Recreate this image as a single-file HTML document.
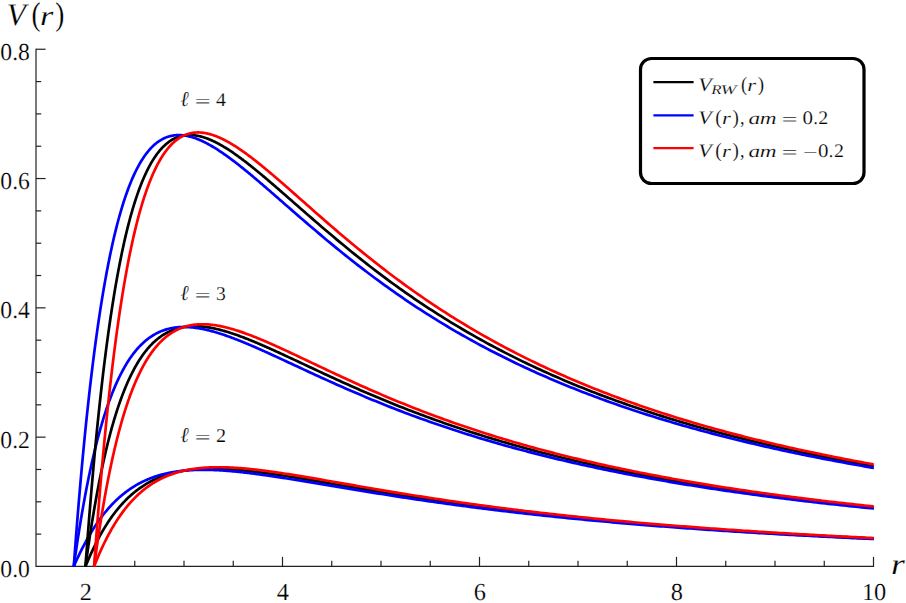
<!DOCTYPE html>
<html><head><meta charset="utf-8"><title>V(r)</title>
<style>
html,body{margin:0;padding:0;background:#fff;}
body{width:906px;height:603px;overflow:hidden;position:relative;font-family:"Liberation Serif",serif;}
svg{position:absolute;left:0;top:0;display:block;}
text{font-family:"Liberation Serif",serif;fill:#000;text-rendering:geometricPrecision;stroke:#fff;stroke-width:0.18px;}
.t{font-size:24.4px;}
.i{font-style:italic;}
</style></head><body>
<svg width="906" height="603" viewBox="0 0 906 603">
<rect width="906" height="603" fill="#fff"/>

<g stroke="#222" stroke-width="1.2" fill="none" stroke-linecap="butt">
<path d="M36.0,48.65 V566.45 H874.10"/>
<path d="M36.0,534.12 h5.2"/>
<path d="M36.0,501.80 h5.2"/>
<path d="M36.0,469.48 h5.2"/>
<path d="M36.0,437.15 h9.6"/>
<path d="M36.0,404.83 h5.2"/>
<path d="M36.0,372.50 h5.2"/>
<path d="M36.0,340.18 h5.2"/>
<path d="M36.0,307.85 h9.6"/>
<path d="M36.0,275.53 h5.2"/>
<path d="M36.0,243.20 h5.2"/>
<path d="M36.0,210.88 h5.2"/>
<path d="M36.0,178.55 h9.6"/>
<path d="M36.0,146.23 h5.2"/>
<path d="M36.0,113.90 h5.2"/>
<path d="M36.0,81.58 h5.2"/>
<path d="M36.0,49.25 h9.6"/>
<path d="M85.50,566.45 v-9.6"/>
<path d="M134.75,566.45 v-5.7"/>
<path d="M184.00,566.45 v-5.7"/>
<path d="M233.25,566.45 v-5.7"/>
<path d="M282.50,566.45 v-9.6"/>
<path d="M331.75,566.45 v-5.7"/>
<path d="M381.00,566.45 v-5.7"/>
<path d="M430.25,566.45 v-5.7"/>
<path d="M479.50,566.45 v-9.6"/>
<path d="M528.75,566.45 v-5.7"/>
<path d="M578.00,566.45 v-5.7"/>
<path d="M627.25,566.45 v-5.7"/>
<path d="M676.50,566.45 v-9.6"/>
<path d="M725.75,566.45 v-5.7"/>
<path d="M775.00,566.45 v-5.7"/>
<path d="M824.25,566.45 v-5.7"/>
<path d="M873.50,566.45 v-9.6"/>
</g>
<defs><clipPath id="cp"><rect x="0" y="0" width="873.80" height="567.05"/></clipPath></defs>
<g fill="none" stroke-width="2.7" stroke-linejoin="round" stroke-linecap="butt" clip-path="url(#cp)">
<path stroke="#000" d="M85.50,566.45 L86.26,564.59 L87.02,562.76 L87.78,560.96 L88.54,559.19 L89.30,557.44 L90.06,555.73 L90.82,554.03 L91.58,552.37 L92.35,550.73 L93.11,549.12 L93.87,547.53 L94.63,545.97 L95.39,544.43 L96.15,542.92 L96.91,541.43 L97.67,539.97 L98.43,538.53 L99.19,537.11 L99.95,535.72 L100.71,534.35 L101.47,533.00 L102.23,531.67 L102.99,530.37 L103.75,529.09 L104.52,527.83 L105.28,526.59 L106.04,525.37 L106.80,524.17 L107.56,522.99 L108.32,521.83 L109.08,520.69 L109.84,519.57 L110.60,518.47 L111.36,517.38 L112.12,516.32 L112.88,515.27 L113.64,514.25 L114.40,513.24 L115.16,512.24 L115.92,511.27 L116.69,510.31 L117.45,509.37 L118.21,508.44 L118.97,507.53 L119.73,506.64 L120.49,505.76 L121.25,504.90 L122.01,504.06 L122.77,503.22 L123.53,502.41 L124.29,501.61 L125.05,500.82 L125.81,500.05 L126.57,499.29 L127.33,498.55 L128.09,497.81 L128.86,497.10 L129.62,496.39 L130.38,495.70 L131.14,495.02 L131.90,494.36 L132.66,493.71 L133.42,493.07 L134.18,492.44 L134.94,491.82 L135.70,491.22 L136.46,490.62 L137.22,490.04 L137.98,489.47 L138.74,488.91 L139.50,488.36 L140.26,487.83 L141.03,487.30 L141.79,486.78 L142.55,486.28 L143.31,485.78 L144.07,485.30 L144.83,484.82 L145.59,484.35 L146.35,483.90 L147.11,483.45 L147.87,483.01 L148.63,482.58 L149.39,482.16 L150.15,481.75 L150.91,481.35 L151.67,480.96 L152.43,480.57 L153.19,480.20 L153.96,479.83 L154.72,479.47 L155.48,479.11 L156.24,478.77 L157.00,478.43 L157.76,478.10 L158.52,477.78 L159.28,477.47 L160.04,477.16 L160.80,476.86 L161.56,476.57 L162.32,476.28 L163.08,476.01 L163.84,475.73 L164.60,475.47 L165.36,475.21 L166.13,474.96 L166.89,474.71 L167.65,474.47 L168.41,474.24 L169.17,474.01 L169.93,473.79 L170.69,473.57 L171.45,473.37 L172.21,473.16 L172.97,472.96 L173.73,472.77 L174.49,472.58 L175.25,472.40 L176.01,472.23 L176.77,472.05 L177.53,471.89 L178.30,471.73 L179.06,471.57 L179.82,471.42 L180.58,471.27 L181.34,471.13 L182.10,470.99 L182.86,470.86 L183.62,470.73 L184.38,470.61 L185.14,470.49 L185.90,470.38 L186.66,470.27 L187.42,470.16 L188.18,470.06 L188.94,469.96 L189.70,469.87 L190.47,469.78 L191.23,469.69 L191.99,469.61 L192.75,469.53 L193.51,469.46 L194.27,469.39 L195.03,469.32 L195.79,469.25 L196.55,469.19 L197.31,469.14 L198.07,469.08 L198.83,469.03 L199.59,468.99 L200.35,468.94 L201.11,468.90 L201.87,468.87 L202.64,468.83 L203.40,468.80 L204.16,468.77 L204.92,468.75 L205.68,468.72 L206.44,468.70 L207.20,468.69 L207.96,468.67 L208.72,468.66 L209.48,468.65 L210.24,468.65 L211.00,468.64 L211.76,468.64 L212.52,468.64 L213.28,468.65 L214.04,468.66 L214.81,468.66 L215.57,468.68 L216.33,468.69 L217.09,468.70 L217.85,468.72 L218.61,468.74 L219.37,468.77 L220.13,468.79 L220.89,468.82 L221.65,468.85 L222.41,468.88 L223.17,468.91 L223.93,468.94 L224.69,468.98 L225.45,469.02 L226.21,469.06 L226.97,469.10 L227.74,469.14 L228.50,469.19 L229.26,469.24 L230.02,469.29 L230.78,469.34 L231.54,469.39 L232.30,469.45 L233.06,469.50 L233.82,469.56 L234.58,469.62 L235.34,469.68 L236.10,469.74 L236.86,469.80 L237.62,469.87 L238.38,469.93 L239.14,470.00 L239.91,470.07 L240.67,470.14 L241.43,470.21 L242.19,470.29 L242.95,470.36 L243.71,470.44 L244.47,470.51 L245.23,470.59 L245.99,470.67 L246.75,470.75 L247.51,470.83 L248.27,470.92 L249.03,471.00 L249.79,471.09 L250.55,471.17 L251.31,471.26 L252.08,471.35 L252.84,471.44 L253.60,471.53 L254.36,471.62 L255.12,471.71 L255.88,471.80 L256.64,471.90 L257.40,471.99 L258.16,472.09 L258.92,472.18 L259.68,472.28 L260.44,472.38 L261.20,472.48 L261.96,472.58 L262.72,472.68 L263.48,472.78 L264.25,472.88 L265.01,472.99 L265.77,473.09 L266.53,473.20 L267.29,473.30 L268.05,473.41 L268.81,473.51 L269.57,473.62 L270.33,473.73 L271.09,473.84 L271.85,473.95 L272.61,474.06 L273.37,474.17 L274.13,474.28 L274.89,474.39 L275.65,474.50 L276.42,474.62 L277.18,474.73 L277.94,474.84 L278.70,474.96 L279.46,475.07 L280.22,475.19 L280.98,475.30 L281.74,475.42 L282.50,475.54 L285.50,476.00 L288.50,476.47 L291.50,476.95 L294.50,477.43 L297.50,477.92 L300.50,478.41 L303.50,478.90 L306.50,479.40 L309.50,479.90 L312.50,480.41 L315.50,480.91 L318.49,481.42 L321.49,481.93 L324.49,482.44 L327.49,482.95 L330.49,483.46 L333.49,483.98 L336.49,484.49 L339.49,485.00 L342.49,485.51 L345.49,486.02 L348.49,486.53 L351.49,487.04 L354.49,487.55 L357.49,488.06 L360.49,488.56 L363.49,489.07 L366.49,489.57 L369.49,490.07 L372.49,490.57 L375.49,491.07 L378.49,491.56 L381.49,492.05 L384.48,492.54 L387.48,493.03 L390.48,493.51 L393.48,494.00 L396.48,494.48 L399.48,494.95 L402.48,495.43 L405.48,495.90 L408.48,496.37 L411.48,496.84 L414.48,497.30 L417.48,497.76 L420.48,498.22 L423.48,498.67 L426.48,499.12 L429.48,499.57 L432.48,500.02 L435.48,500.46 L438.48,500.90 L441.48,501.33 L444.48,501.77 L447.48,502.19 L450.47,502.62 L453.47,503.05 L456.47,503.47 L459.47,503.88 L462.47,504.30 L465.47,504.71 L468.47,505.12 L471.47,505.52 L474.47,505.92 L477.47,506.32 L480.47,506.72 L483.47,507.11 L486.47,507.50 L489.47,507.88 L492.47,508.27 L495.47,508.65 L498.47,509.03 L501.47,509.40 L504.47,509.77 L507.47,510.14 L510.47,510.50 L513.47,510.87 L516.46,511.23 L519.46,511.58 L522.46,511.94 L525.46,512.29 L528.46,512.63 L531.46,512.98 L534.46,513.32 L537.46,513.66 L540.46,514.00 L543.46,514.33 L546.46,514.66 L549.46,514.99 L552.46,515.32 L555.46,515.64 L558.46,515.96 L561.46,516.28 L564.46,516.59 L567.46,516.90 L570.46,517.21 L573.46,517.52 L576.46,517.83 L579.46,518.13 L582.45,518.43 L585.45,518.73 L588.45,519.02 L591.45,519.31 L594.45,519.60 L597.45,519.89 L600.45,520.18 L603.45,520.46 L606.45,520.74 L609.45,521.02 L612.45,521.29 L615.45,521.57 L618.45,521.84 L621.45,522.11 L624.45,522.37 L627.45,522.64 L630.45,522.90 L633.45,523.16 L636.45,523.42 L639.45,523.68 L642.45,523.93 L645.45,524.18 L648.44,524.43 L651.44,524.68 L654.44,524.93 L657.44,525.17 L660.44,525.41 L663.44,525.65 L666.44,525.89 L669.44,526.13 L672.44,526.36 L675.44,526.59 L678.44,526.82 L681.44,527.05 L684.44,527.28 L687.44,527.50 L690.44,527.73 L693.44,527.95 L696.44,528.17 L699.44,528.39 L702.44,528.60 L705.44,528.82 L708.44,529.03 L711.44,529.24 L714.43,529.45 L717.43,529.66 L720.43,529.86 L723.43,530.07 L726.43,530.27 L729.43,530.47 L732.43,530.67 L735.43,530.87 L738.43,531.07 L741.43,531.26 L744.43,531.45 L747.43,531.65 L750.43,531.84 L753.43,532.03 L756.43,532.21 L759.43,532.40 L762.43,532.58 L765.43,532.77 L768.43,532.95 L771.43,533.13 L774.43,533.31 L777.43,533.49 L780.42,533.66 L783.42,533.84 L786.42,534.01 L789.42,534.18 L792.42,534.35 L795.42,534.52 L798.42,534.69 L801.42,534.86 L804.42,535.02 L807.42,535.19 L810.42,535.35 L813.42,535.51 L816.42,535.68 L819.42,535.83 L822.42,535.99 L825.42,536.15 L828.42,536.31 L831.42,536.46 L834.42,536.62 L837.42,536.77 L840.42,536.92 L843.42,537.07 L846.41,537.22 L849.41,537.37 L852.41,537.52 L855.41,537.66 L858.41,537.81 L861.41,537.95 L864.41,538.09 L867.41,538.24 L870.41,538.38 L873.41,538.52 L876.41,538.66 L879.41,538.79"/>
<path stroke="#0000ff" d="M73.78,566.45 L74.59,564.61 L75.39,562.79 L76.20,561.01 L77.00,559.24 L77.81,557.51 L78.62,555.80 L79.42,554.11 L80.23,552.45 L81.03,550.82 L81.84,549.21 L82.65,547.63 L83.45,546.06 L84.26,544.53 L85.06,543.02 L85.87,541.53 L86.67,540.06 L87.48,538.62 L88.29,537.20 L89.09,535.80 L89.90,534.43 L90.70,533.08 L91.51,531.75 L92.32,530.44 L93.12,529.15 L93.93,527.89 L94.73,526.64 L95.54,525.42 L96.35,524.21 L97.15,523.03 L97.96,521.87 L98.76,520.72 L99.57,519.60 L100.37,518.49 L101.18,517.41 L101.99,516.34 L102.79,515.29 L103.60,514.26 L104.40,513.24 L105.21,512.25 L106.02,511.27 L106.82,510.31 L107.63,509.36 L108.43,508.43 L109.24,507.52 L110.04,506.63 L110.85,505.75 L111.66,504.89 L112.46,504.04 L113.27,503.21 L114.07,502.39 L114.88,501.59 L115.69,500.80 L116.49,500.03 L117.30,499.27 L118.10,498.53 L118.91,497.80 L119.72,497.08 L120.52,496.38 L121.33,495.69 L122.13,495.02 L122.94,494.35 L123.74,493.70 L124.55,493.07 L125.36,492.44 L126.16,491.83 L126.97,491.23 L127.77,490.64 L128.58,490.06 L129.39,489.50 L130.19,488.94 L131.00,488.40 L131.80,487.87 L132.61,487.35 L133.41,486.84 L134.22,486.34 L135.03,485.85 L135.83,485.37 L136.64,484.90 L137.44,484.44 L138.25,483.99 L139.06,483.55 L139.86,483.12 L140.67,482.70 L141.47,482.29 L142.28,481.89 L143.09,481.50 L143.89,481.11 L144.70,480.74 L145.50,480.37 L146.31,480.01 L147.11,479.66 L147.92,479.32 L148.73,478.99 L149.53,478.66 L150.34,478.34 L151.14,478.03 L151.95,477.73 L152.76,477.43 L153.56,477.14 L154.37,476.86 L155.17,476.59 L155.98,476.32 L156.79,476.06 L157.59,475.81 L158.40,475.56 L159.20,475.32 L160.01,475.09 L160.81,474.86 L161.62,474.64 L162.43,474.43 L163.23,474.22 L164.04,474.02 L164.84,473.82 L165.65,473.63 L166.46,473.44 L167.26,473.26 L168.07,473.09 L168.87,472.92 L169.68,472.76 L170.48,472.60 L171.29,472.45 L172.10,472.30 L172.90,472.16 L173.71,472.02 L174.51,471.89 L175.32,471.76 L176.13,471.64 L176.93,471.52 L177.74,471.41 L178.54,471.30 L179.35,471.19 L180.16,471.09 L180.96,471.00 L181.77,470.90 L182.57,470.82 L183.38,470.73 L184.18,470.65 L184.99,470.58 L185.80,470.51 L186.60,470.44 L187.41,470.38 L188.21,470.32 L189.02,470.26 L189.83,470.21 L190.63,470.16 L191.44,470.11 L192.24,470.07 L193.05,470.03 L193.85,469.99 L194.66,469.96 L195.47,469.93 L196.27,469.91 L197.08,469.88 L197.88,469.86 L198.69,469.85 L199.50,469.83 L200.30,469.82 L201.11,469.81 L201.91,469.81 L202.72,469.81 L203.53,469.81 L204.33,469.81 L205.14,469.81 L205.94,469.82 L206.75,469.83 L207.55,469.85 L208.36,469.86 L209.17,469.88 L209.97,469.90 L210.78,469.92 L211.58,469.95 L212.39,469.98 L213.20,470.00 L214.00,470.04 L214.81,470.07 L215.61,470.11 L216.42,470.15 L217.22,470.19 L218.03,470.23 L218.84,470.27 L219.64,470.32 L220.45,470.37 L221.25,470.42 L222.06,470.47 L222.87,470.52 L223.67,470.58 L224.48,470.63 L225.28,470.69 L226.09,470.75 L226.90,470.82 L227.70,470.88 L228.51,470.95 L229.31,471.01 L230.12,471.08 L230.92,471.15 L231.73,471.22 L232.54,471.30 L233.34,471.37 L234.15,471.45 L234.95,471.52 L235.76,471.60 L236.57,471.68 L237.37,471.76 L238.18,471.85 L238.98,471.93 L239.79,472.02 L240.60,472.10 L241.40,472.19 L242.21,472.28 L243.01,472.37 L243.82,472.46 L244.62,472.55 L245.43,472.64 L246.24,472.74 L247.04,472.83 L247.85,472.93 L248.65,473.03 L249.46,473.13 L250.27,473.23 L251.07,473.33 L251.88,473.43 L252.68,473.53 L253.49,473.63 L254.29,473.74 L255.10,473.84 L255.91,473.95 L256.71,474.05 L257.52,474.16 L258.32,474.27 L259.13,474.38 L259.94,474.49 L260.74,474.60 L261.55,474.71 L262.35,474.82 L263.16,474.93 L263.97,475.05 L264.77,475.16 L265.58,475.28 L266.38,475.39 L267.19,475.51 L267.99,475.62 L268.80,475.74 L269.61,475.86 L270.41,475.98 L271.22,476.09 L272.02,476.21 L272.83,476.33 L273.64,476.45 L274.44,476.57 L275.25,476.70 L276.05,476.82 L276.86,476.94 L277.66,477.06 L278.47,477.19 L279.28,477.31 L280.08,477.43 L280.89,477.56 L281.69,477.68 L282.50,477.81 L285.50,478.28 L288.50,478.75 L291.50,479.23 L294.50,479.72 L297.50,480.20 L300.50,480.69 L303.50,481.18 L306.50,481.68 L309.50,482.17 L312.50,482.67 L315.50,483.17 L318.49,483.67 L321.49,484.17 L324.49,484.67 L327.49,485.17 L330.49,485.68 L333.49,486.18 L336.49,486.68 L339.49,487.18 L342.49,487.68 L345.49,488.18 L348.49,488.67 L351.49,489.17 L354.49,489.67 L357.49,490.16 L360.49,490.65 L363.49,491.14 L366.49,491.63 L369.49,492.11 L372.49,492.60 L375.49,493.08 L378.49,493.56 L381.49,494.04 L384.48,494.51 L387.48,494.98 L390.48,495.45 L393.48,495.92 L396.48,496.38 L399.48,496.85 L402.48,497.31 L405.48,497.76 L408.48,498.21 L411.48,498.67 L414.48,499.11 L417.48,499.56 L420.48,500.00 L423.48,500.44 L426.48,500.87 L429.48,501.31 L432.48,501.74 L435.48,502.17 L438.48,502.59 L441.48,503.01 L444.48,503.43 L447.48,503.84 L450.47,504.26 L453.47,504.66 L456.47,505.07 L459.47,505.47 L462.47,505.87 L465.47,506.27 L468.47,506.66 L471.47,507.05 L474.47,507.44 L477.47,507.83 L480.47,508.21 L483.47,508.59 L486.47,508.96 L489.47,509.34 L492.47,509.71 L495.47,510.07 L498.47,510.44 L501.47,510.80 L504.47,511.16 L507.47,511.51 L510.47,511.87 L513.47,512.22 L516.46,512.56 L519.46,512.91 L522.46,513.25 L525.46,513.59 L528.46,513.92 L531.46,514.26 L534.46,514.59 L537.46,514.91 L540.46,515.24 L543.46,515.56 L546.46,515.88 L549.46,516.20 L552.46,516.51 L555.46,516.83 L558.46,517.14 L561.46,517.44 L564.46,517.75 L567.46,518.05 L570.46,518.35 L573.46,518.65 L576.46,518.94 L579.46,519.23 L582.45,519.52 L585.45,519.81 L588.45,520.09 L591.45,520.38 L594.45,520.66 L597.45,520.94 L600.45,521.21 L603.45,521.49 L606.45,521.76 L609.45,522.03 L612.45,522.29 L615.45,522.56 L618.45,522.82 L621.45,523.08 L624.45,523.34 L627.45,523.60 L630.45,523.85 L633.45,524.10 L636.45,524.35 L639.45,524.60 L642.45,524.85 L645.45,525.09 L648.44,525.33 L651.44,525.57 L654.44,525.81 L657.44,526.05 L660.44,526.28 L663.44,526.51 L666.44,526.74 L669.44,526.97 L672.44,527.20 L675.44,527.42 L678.44,527.65 L681.44,527.87 L684.44,528.09 L687.44,528.31 L690.44,528.52 L693.44,528.74 L696.44,528.95 L699.44,529.16 L702.44,529.37 L705.44,529.58 L708.44,529.79 L711.44,529.99 L714.43,530.19 L717.43,530.40 L720.43,530.60 L723.43,530.79 L726.43,530.99 L729.43,531.19 L732.43,531.38 L735.43,531.57 L738.43,531.76 L741.43,531.95 L744.43,532.14 L747.43,532.33 L750.43,532.51 L753.43,532.69 L756.43,532.88 L759.43,533.06 L762.43,533.24 L765.43,533.41 L768.43,533.59 L771.43,533.77 L774.43,533.94 L777.43,534.11 L780.42,534.28 L783.42,534.45 L786.42,534.62 L789.42,534.79 L792.42,534.96 L795.42,535.12 L798.42,535.28 L801.42,535.45 L804.42,535.61 L807.42,535.77 L810.42,535.93 L813.42,536.08 L816.42,536.24 L819.42,536.40 L822.42,536.55 L825.42,536.70 L828.42,536.86 L831.42,537.01 L834.42,537.16 L837.42,537.30 L840.42,537.45 L843.42,537.60 L846.41,537.74 L849.41,537.89 L852.41,538.03 L855.41,538.17 L858.41,538.31 L861.41,538.46 L864.41,538.59 L867.41,538.73 L870.41,538.87 L873.41,539.01 L876.41,539.14 L879.41,539.28"/>
<path stroke="#ff0000" d="M94.11,566.45 L94.84,564.60 L95.57,562.77 L96.29,560.98 L97.02,559.21 L97.75,557.47 L98.48,555.76 L99.20,554.08 L99.93,552.42 L100.66,550.78 L101.39,549.18 L102.11,547.60 L102.84,546.04 L103.57,544.51 L104.30,543.00 L105.02,541.52 L105.75,540.06 L106.48,538.62 L107.20,537.21 L107.93,535.82 L108.66,534.45 L109.39,533.11 L110.11,531.78 L110.84,530.48 L111.57,529.20 L112.30,527.94 L113.02,526.70 L113.75,525.49 L114.48,524.29 L115.21,523.11 L115.93,521.95 L116.66,520.81 L117.39,519.69 L118.12,518.59 L118.84,517.50 L119.57,516.44 L120.30,515.39 L121.02,514.36 L121.75,513.35 L122.48,512.35 L123.21,511.37 L123.93,510.41 L124.66,509.47 L125.39,508.54 L126.12,507.63 L126.84,506.73 L127.57,505.85 L128.30,504.98 L129.03,504.13 L129.75,503.29 L130.48,502.47 L131.21,501.66 L131.94,500.87 L132.66,500.09 L133.39,499.33 L134.12,498.57 L134.84,497.84 L135.57,497.11 L136.30,496.40 L137.03,495.70 L137.75,495.01 L138.48,494.34 L139.21,493.68 L139.94,493.03 L140.66,492.39 L141.39,491.76 L142.12,491.15 L142.85,490.55 L143.57,489.96 L144.30,489.38 L145.03,488.81 L145.76,488.25 L146.48,487.70 L147.21,487.16 L147.94,486.63 L148.66,486.12 L149.39,485.61 L150.12,485.11 L150.85,484.63 L151.57,484.15 L152.30,483.68 L153.03,483.22 L153.76,482.77 L154.48,482.33 L155.21,481.90 L155.94,481.47 L156.67,481.06 L157.39,480.65 L158.12,480.25 L158.85,479.87 L159.58,479.48 L160.30,479.11 L161.03,478.74 L161.76,478.39 L162.48,478.04 L163.21,477.69 L163.94,477.36 L164.67,477.03 L165.39,476.71 L166.12,476.40 L166.85,476.09 L167.58,475.79 L168.30,475.50 L169.03,475.21 L169.76,474.94 L170.49,474.66 L171.21,474.40 L171.94,474.14 L172.67,473.88 L173.40,473.64 L174.12,473.39 L174.85,473.16 L175.58,472.93 L176.30,472.71 L177.03,472.49 L177.76,472.28 L178.49,472.07 L179.21,471.87 L179.94,471.67 L180.67,471.48 L181.40,471.29 L182.12,471.11 L182.85,470.94 L183.58,470.77 L184.31,470.60 L185.03,470.44 L185.76,470.29 L186.49,470.14 L187.22,469.99 L187.94,469.85 L188.67,469.71 L189.40,469.58 L190.12,469.45 L190.85,469.32 L191.58,469.20 L192.31,469.09 L193.03,468.98 L193.76,468.87 L194.49,468.76 L195.22,468.66 L195.94,468.57 L196.67,468.48 L197.40,468.39 L198.13,468.30 L198.85,468.22 L199.58,468.14 L200.31,468.07 L201.04,468.00 L201.76,467.93 L202.49,467.87 L203.22,467.81 L203.94,467.75 L204.67,467.70 L205.40,467.65 L206.13,467.60 L206.85,467.56 L207.58,467.51 L208.31,467.48 L209.04,467.44 L209.76,467.41 L210.49,467.38 L211.22,467.35 L211.95,467.33 L212.67,467.31 L213.40,467.29 L214.13,467.27 L214.85,467.26 L215.58,467.25 L216.31,467.24 L217.04,467.23 L217.76,467.23 L218.49,467.23 L219.22,467.23 L219.95,467.23 L220.67,467.24 L221.40,467.25 L222.13,467.26 L222.86,467.27 L223.58,467.28 L224.31,467.30 L225.04,467.32 L225.77,467.34 L226.49,467.36 L227.22,467.39 L227.95,467.42 L228.67,467.44 L229.40,467.48 L230.13,467.51 L230.86,467.54 L231.58,467.58 L232.31,467.62 L233.04,467.66 L233.77,467.70 L234.49,467.74 L235.22,467.79 L235.95,467.83 L236.68,467.88 L237.40,467.93 L238.13,467.98 L238.86,468.04 L239.59,468.09 L240.31,468.15 L241.04,468.20 L241.77,468.26 L242.49,468.32 L243.22,468.39 L243.95,468.45 L244.68,468.51 L245.40,468.58 L246.13,468.65 L246.86,468.71 L247.59,468.78 L248.31,468.86 L249.04,468.93 L249.77,469.00 L250.50,469.08 L251.22,469.15 L251.95,469.23 L252.68,469.31 L253.41,469.38 L254.13,469.46 L254.86,469.55 L255.59,469.63 L256.31,469.71 L257.04,469.80 L257.77,469.88 L258.50,469.97 L259.22,470.05 L259.95,470.14 L260.68,470.23 L261.41,470.32 L262.13,470.41 L262.86,470.50 L263.59,470.60 L264.32,470.69 L265.04,470.79 L265.77,470.88 L266.50,470.98 L267.23,471.07 L267.95,471.17 L268.68,471.27 L269.41,471.37 L270.13,471.47 L270.86,471.57 L271.59,471.67 L272.32,471.77 L273.04,471.87 L273.77,471.98 L274.50,472.08 L275.23,472.19 L275.95,472.29 L276.68,472.40 L277.41,472.50 L278.14,472.61 L278.86,472.72 L279.59,472.83 L280.32,472.93 L281.05,473.04 L281.77,473.15 L282.50,473.26 L285.50,473.72 L288.50,474.19 L291.50,474.67 L294.50,475.15 L297.50,475.64 L300.50,476.13 L303.50,476.63 L306.50,477.13 L309.50,477.64 L312.50,478.15 L315.50,478.66 L318.49,479.17 L321.49,479.69 L324.49,480.21 L327.49,480.73 L330.49,481.25 L333.49,481.78 L336.49,482.30 L339.49,482.82 L342.49,483.35 L345.49,483.87 L348.49,484.39 L351.49,484.92 L354.49,485.44 L357.49,485.96 L360.49,486.48 L363.49,487.00 L366.49,487.51 L369.49,488.03 L372.49,488.54 L375.49,489.05 L378.49,489.56 L381.49,490.07 L384.48,490.57 L387.48,491.08 L390.48,491.58 L393.48,492.07 L396.48,492.57 L399.48,493.06 L402.48,493.55 L405.48,494.04 L408.48,494.52 L411.48,495.01 L414.48,495.48 L417.48,495.96 L420.48,496.43 L423.48,496.90 L426.48,497.37 L429.48,497.83 L432.48,498.29 L435.48,498.75 L438.48,499.20 L441.48,499.65 L444.48,500.10 L447.48,500.55 L450.47,500.99 L453.47,501.43 L456.47,501.86 L459.47,502.29 L462.47,502.72 L465.47,503.15 L468.47,503.57 L471.47,503.99 L474.47,504.40 L477.47,504.82 L480.47,505.22 L483.47,505.63 L486.47,506.03 L489.47,506.43 L492.47,506.83 L495.47,507.22 L498.47,507.61 L501.47,508.00 L504.47,508.38 L507.47,508.76 L510.47,509.14 L513.47,509.52 L516.46,509.89 L519.46,510.26 L522.46,510.62 L525.46,510.99 L528.46,511.35 L531.46,511.70 L534.46,512.06 L537.46,512.41 L540.46,512.76 L543.46,513.10 L546.46,513.44 L549.46,513.78 L552.46,514.12 L555.46,514.45 L558.46,514.78 L561.46,515.11 L564.46,515.44 L567.46,515.76 L570.46,516.08 L573.46,516.40 L576.46,516.71 L579.46,517.03 L582.45,517.34 L585.45,517.64 L588.45,517.95 L591.45,518.25 L594.45,518.55 L597.45,518.85 L600.45,519.14 L603.45,519.43 L606.45,519.72 L609.45,520.01 L612.45,520.29 L615.45,520.58 L618.45,520.86 L621.45,521.13 L624.45,521.41 L627.45,521.68 L630.45,521.95 L633.45,522.22 L636.45,522.49 L639.45,522.75 L642.45,523.02 L645.45,523.28 L648.44,523.53 L651.44,523.79 L654.44,524.04 L657.44,524.30 L660.44,524.55 L663.44,524.79 L666.44,525.04 L669.44,525.28 L672.44,525.52 L675.44,525.76 L678.44,526.00 L681.44,526.24 L684.44,526.47 L687.44,526.70 L690.44,526.93 L693.44,527.16 L696.44,527.39 L699.44,527.61 L702.44,527.83 L705.44,528.05 L708.44,528.27 L711.44,528.49 L714.43,528.71 L717.43,528.92 L720.43,529.13 L723.43,529.34 L726.43,529.55 L729.43,529.76 L732.43,529.96 L735.43,530.17 L738.43,530.37 L741.43,530.57 L744.43,530.77 L747.43,530.97 L750.43,531.16 L753.43,531.36 L756.43,531.55 L759.43,531.74 L762.43,531.93 L765.43,532.12 L768.43,532.31 L771.43,532.49 L774.43,532.68 L777.43,532.86 L780.42,533.04 L783.42,533.22 L786.42,533.40 L789.42,533.58 L792.42,533.75 L795.42,533.93 L798.42,534.10 L801.42,534.27 L804.42,534.44 L807.42,534.61 L810.42,534.78 L813.42,534.94 L816.42,535.11 L819.42,535.27 L822.42,535.44 L825.42,535.60 L828.42,535.76 L831.42,535.92 L834.42,536.08 L837.42,536.23 L840.42,536.39 L843.42,536.54 L846.41,536.70 L849.41,536.85 L852.41,537.00 L855.41,537.15 L858.41,537.30 L861.41,537.45 L864.41,537.59 L867.41,537.74 L870.41,537.88 L873.41,538.03 L876.41,538.17 L879.41,538.31"/>
<path stroke="#000" d="M85.50,566.45 L86.26,560.89 L87.02,555.45 L87.78,550.11 L88.54,544.89 L89.30,539.77 L90.06,534.75 L90.82,529.84 L91.58,525.03 L92.35,520.32 L93.11,515.70 L93.87,511.18 L94.63,506.75 L95.39,502.41 L96.15,498.16 L96.91,494.00 L97.67,489.92 L98.43,485.93 L99.19,482.02 L99.95,478.19 L100.71,474.44 L101.47,470.77 L102.23,467.17 L102.99,463.65 L103.75,460.20 L104.52,456.83 L105.28,453.52 L106.04,450.29 L106.80,447.12 L107.56,444.01 L108.32,440.98 L109.08,438.00 L109.84,435.09 L110.60,432.24 L111.36,429.45 L112.12,426.72 L112.88,424.05 L113.64,421.44 L114.40,418.88 L115.16,416.37 L115.92,413.92 L116.69,411.53 L117.45,409.18 L118.21,406.89 L118.97,404.64 L119.73,402.44 L120.49,400.30 L121.25,398.19 L122.01,396.14 L122.77,394.13 L123.53,392.17 L124.29,390.24 L125.05,388.37 L125.81,386.53 L126.57,384.73 L127.33,382.98 L128.09,381.26 L128.86,379.59 L129.62,377.95 L130.38,376.35 L131.14,374.79 L131.90,373.26 L132.66,371.77 L133.42,370.31 L134.18,368.89 L134.94,367.50 L135.70,366.15 L136.46,364.82 L137.22,363.53 L137.98,362.27 L138.74,361.04 L139.50,359.84 L140.26,358.67 L141.03,357.53 L141.79,356.42 L142.55,355.33 L143.31,354.28 L144.07,353.25 L144.83,352.24 L145.59,351.27 L146.35,350.31 L147.11,349.39 L147.87,348.48 L148.63,347.61 L149.39,346.75 L150.15,345.92 L150.91,345.11 L151.67,344.33 L152.43,343.56 L153.19,342.82 L153.96,342.10 L154.72,341.40 L155.48,340.72 L156.24,340.06 L157.00,339.42 L157.76,338.80 L158.52,338.20 L159.28,337.61 L160.04,337.05 L160.80,336.50 L161.56,335.97 L162.32,335.46 L163.08,334.97 L163.84,334.49 L164.60,334.03 L165.36,333.58 L166.13,333.15 L166.89,332.74 L167.65,332.34 L168.41,331.96 L169.17,331.59 L169.93,331.24 L170.69,330.90 L171.45,330.57 L172.21,330.26 L172.97,329.96 L173.73,329.68 L174.49,329.40 L175.25,329.14 L176.01,328.90 L176.77,328.66 L177.53,328.44 L178.30,328.23 L179.06,328.03 L179.82,327.84 L180.58,327.67 L181.34,327.50 L182.10,327.35 L182.86,327.20 L183.62,327.07 L184.38,326.95 L185.14,326.83 L185.90,326.73 L186.66,326.64 L187.42,326.55 L188.18,326.48 L188.94,326.41 L189.70,326.35 L190.47,326.31 L191.23,326.27 L191.99,326.24 L192.75,326.21 L193.51,326.20 L194.27,326.19 L195.03,326.20 L195.79,326.21 L196.55,326.22 L197.31,326.25 L198.07,326.28 L198.83,326.32 L199.59,326.37 L200.35,326.42 L201.11,326.48 L201.87,326.55 L202.64,326.62 L203.40,326.70 L204.16,326.79 L204.92,326.88 L205.68,326.98 L206.44,327.08 L207.20,327.19 L207.96,327.31 L208.72,327.43 L209.48,327.56 L210.24,327.69 L211.00,327.83 L211.76,327.97 L212.52,328.12 L213.28,328.28 L214.04,328.43 L214.81,328.60 L215.57,328.76 L216.33,328.94 L217.09,329.11 L217.85,329.30 L218.61,329.48 L219.37,329.67 L220.13,329.87 L220.89,330.07 L221.65,330.27 L222.41,330.48 L223.17,330.69 L223.93,330.90 L224.69,331.12 L225.45,331.34 L226.21,331.57 L226.97,331.79 L227.74,332.03 L228.50,332.26 L229.26,332.50 L230.02,332.74 L230.78,332.99 L231.54,333.24 L232.30,333.49 L233.06,333.74 L233.82,334.00 L234.58,334.26 L235.34,334.52 L236.10,334.79 L236.86,335.06 L237.62,335.33 L238.38,335.60 L239.14,335.88 L239.91,336.16 L240.67,336.44 L241.43,336.72 L242.19,337.01 L242.95,337.29 L243.71,337.58 L244.47,337.88 L245.23,338.17 L245.99,338.47 L246.75,338.76 L247.51,339.06 L248.27,339.37 L249.03,339.67 L249.79,339.98 L250.55,340.28 L251.31,340.59 L252.08,340.90 L252.84,341.22 L253.60,341.53 L254.36,341.85 L255.12,342.16 L255.88,342.48 L256.64,342.80 L257.40,343.12 L258.16,343.45 L258.92,343.77 L259.68,344.10 L260.44,344.42 L261.20,344.75 L261.96,345.08 L262.72,345.41 L263.48,345.74 L264.25,346.08 L265.01,346.41 L265.77,346.74 L266.53,347.08 L267.29,347.42 L268.05,347.76 L268.81,348.09 L269.57,348.43 L270.33,348.77 L271.09,349.12 L271.85,349.46 L272.61,349.80 L273.37,350.14 L274.13,350.49 L274.89,350.83 L275.65,351.18 L276.42,351.53 L277.18,351.87 L277.94,352.22 L278.70,352.57 L279.46,352.92 L280.22,353.27 L280.98,353.62 L281.74,353.97 L282.50,354.32 L285.50,355.70 L288.50,357.10 L291.50,358.50 L294.50,359.90 L297.50,361.30 L300.50,362.71 L303.50,364.11 L306.50,365.52 L309.50,366.93 L312.50,368.33 L315.50,369.73 L318.49,371.13 L321.49,372.52 L324.49,373.91 L327.49,375.30 L330.49,376.68 L333.49,378.06 L336.49,379.43 L339.49,380.79 L342.49,382.15 L345.49,383.50 L348.49,384.84 L351.49,386.18 L354.49,387.51 L357.49,388.83 L360.49,390.14 L363.49,391.44 L366.49,392.74 L369.49,394.02 L372.49,395.30 L375.49,396.57 L378.49,397.83 L381.49,399.08 L384.48,400.32 L387.48,401.55 L390.48,402.77 L393.48,403.99 L396.48,405.19 L399.48,406.39 L402.48,407.57 L405.48,408.75 L408.48,409.91 L411.48,411.07 L414.48,412.21 L417.48,413.35 L420.48,414.48 L423.48,415.60 L426.48,416.70 L429.48,417.80 L432.48,418.89 L435.48,419.97 L438.48,421.04 L441.48,422.10 L444.48,423.15 L447.48,424.20 L450.47,425.23 L453.47,426.25 L456.47,427.27 L459.47,428.27 L462.47,429.27 L465.47,430.26 L468.47,431.23 L471.47,432.20 L474.47,433.16 L477.47,434.12 L480.47,435.06 L483.47,435.99 L486.47,436.92 L489.47,437.84 L492.47,438.75 L495.47,439.65 L498.47,440.54 L501.47,441.43 L504.47,442.30 L507.47,443.17 L510.47,444.03 L513.47,444.88 L516.46,445.73 L519.46,446.56 L522.46,447.39 L525.46,448.21 L528.46,449.03 L531.46,449.84 L534.46,450.63 L537.46,451.43 L540.46,452.21 L543.46,452.99 L546.46,453.76 L549.46,454.52 L552.46,455.28 L555.46,456.02 L558.46,456.77 L561.46,457.50 L564.46,458.23 L567.46,458.95 L570.46,459.67 L573.46,460.38 L576.46,461.08 L579.46,461.77 L582.45,462.46 L585.45,463.15 L588.45,463.82 L591.45,464.50 L594.45,465.16 L597.45,465.82 L600.45,466.47 L603.45,467.12 L606.45,467.76 L609.45,468.40 L612.45,469.03 L615.45,469.65 L618.45,470.27 L621.45,470.88 L624.45,471.49 L627.45,472.09 L630.45,472.69 L633.45,473.28 L636.45,473.87 L639.45,474.45 L642.45,475.02 L645.45,475.59 L648.44,476.16 L651.44,476.72 L654.44,477.28 L657.44,477.83 L660.44,478.37 L663.44,478.92 L666.44,479.45 L669.44,479.98 L672.44,480.51 L675.44,481.03 L678.44,481.55 L681.44,482.07 L684.44,482.58 L687.44,483.08 L690.44,483.58 L693.44,484.08 L696.44,484.57 L699.44,485.06 L702.44,485.54 L705.44,486.02 L708.44,486.50 L711.44,486.97 L714.43,487.44 L717.43,487.90 L720.43,488.36 L723.43,488.82 L726.43,489.27 L729.43,489.72 L732.43,490.16 L735.43,490.61 L738.43,491.04 L741.43,491.48 L744.43,491.91 L747.43,492.33 L750.43,492.76 L753.43,493.18 L756.43,493.59 L759.43,494.01 L762.43,494.41 L765.43,494.82 L768.43,495.22 L771.43,495.62 L774.43,496.02 L777.43,496.41 L780.42,496.80 L783.42,497.19 L786.42,497.57 L789.42,497.95 L792.42,498.33 L795.42,498.71 L798.42,499.08 L801.42,499.45 L804.42,499.81 L807.42,500.17 L810.42,500.53 L813.42,500.89 L816.42,501.25 L819.42,501.60 L822.42,501.95 L825.42,502.29 L828.42,502.64 L831.42,502.98 L834.42,503.31 L837.42,503.65 L840.42,503.98 L843.42,504.31 L846.41,504.64 L849.41,504.97 L852.41,505.29 L855.41,505.61 L858.41,505.93 L861.41,506.24 L864.41,506.56 L867.41,506.87 L870.41,507.17 L873.41,507.48 L876.41,507.78 L879.41,508.09"/>
<path stroke="#0000ff" d="M73.78,566.45 L74.59,560.70 L75.39,555.06 L76.20,549.55 L77.00,544.15 L77.81,538.87 L78.62,533.69 L79.42,528.63 L80.23,523.67 L81.03,518.82 L81.84,514.06 L82.65,509.41 L83.45,504.86 L84.26,500.41 L85.06,496.04 L85.87,491.78 L86.67,487.60 L87.48,483.51 L88.29,479.51 L89.09,475.59 L89.90,471.76 L90.70,468.01 L91.51,464.34 L92.32,460.75 L93.12,457.24 L93.93,453.80 L94.73,450.44 L95.54,447.15 L96.35,443.93 L97.15,440.79 L97.96,437.71 L98.76,434.69 L99.57,431.75 L100.37,428.87 L101.18,426.05 L101.99,423.30 L102.79,420.60 L103.60,417.97 L104.40,415.39 L105.21,412.87 L106.02,410.41 L106.82,408.01 L107.63,405.66 L108.43,403.36 L109.24,401.11 L110.04,398.92 L110.85,396.77 L111.66,394.68 L112.46,392.63 L113.27,390.63 L114.07,388.68 L114.88,386.77 L115.69,384.91 L116.49,383.09 L117.30,381.31 L118.10,379.58 L118.91,377.88 L119.72,376.23 L120.52,374.62 L121.33,373.05 L122.13,371.51 L122.94,370.01 L123.74,368.55 L124.55,367.13 L125.36,365.74 L126.16,364.39 L126.97,363.07 L127.77,361.78 L128.58,360.53 L129.39,359.31 L130.19,358.12 L131.00,356.96 L131.80,355.83 L132.61,354.73 L133.41,353.66 L134.22,352.62 L135.03,351.61 L135.83,350.63 L136.64,349.67 L137.44,348.74 L138.25,347.84 L139.06,346.96 L139.86,346.11 L140.67,345.28 L141.47,344.47 L142.28,343.69 L143.09,342.93 L143.89,342.20 L144.70,341.49 L145.50,340.80 L146.31,340.13 L147.11,339.48 L147.92,338.86 L148.73,338.25 L149.53,337.66 L150.34,337.10 L151.14,336.55 L151.95,336.02 L152.76,335.51 L153.56,335.02 L154.37,334.55 L155.17,334.10 L155.98,333.66 L156.79,333.24 L157.59,332.83 L158.40,332.44 L159.20,332.07 L160.01,331.71 L160.81,331.37 L161.62,331.04 L162.43,330.73 L163.23,330.44 L164.04,330.15 L164.84,329.88 L165.65,329.63 L166.46,329.39 L167.26,329.16 L168.07,328.94 L168.87,328.74 L169.68,328.55 L170.48,328.37 L171.29,328.21 L172.10,328.05 L172.90,327.91 L173.71,327.78 L174.51,327.66 L175.32,327.55 L176.13,327.45 L176.93,327.36 L177.74,327.28 L178.54,327.21 L179.35,327.16 L180.16,327.11 L180.96,327.07 L181.77,327.04 L182.57,327.02 L183.38,327.01 L184.18,327.01 L184.99,327.01 L185.80,327.03 L186.60,327.05 L187.41,327.08 L188.21,327.12 L189.02,327.17 L189.83,327.22 L190.63,327.28 L191.44,327.35 L192.24,327.43 L193.05,327.52 L193.85,327.61 L194.66,327.70 L195.47,327.81 L196.27,327.92 L197.08,328.04 L197.88,328.16 L198.69,328.29 L199.50,328.43 L200.30,328.57 L201.11,328.72 L201.91,328.87 L202.72,329.03 L203.53,329.20 L204.33,329.37 L205.14,329.54 L205.94,329.72 L206.75,329.91 L207.55,330.10 L208.36,330.29 L209.17,330.49 L209.97,330.70 L210.78,330.91 L211.58,331.12 L212.39,331.34 L213.20,331.56 L214.00,331.79 L214.81,332.02 L215.61,332.25 L216.42,332.49 L217.22,332.73 L218.03,332.98 L218.84,333.23 L219.64,333.48 L220.45,333.74 L221.25,334.00 L222.06,334.27 L222.87,334.53 L223.67,334.80 L224.48,335.08 L225.28,335.35 L226.09,335.63 L226.90,335.91 L227.70,336.20 L228.51,336.49 L229.31,336.78 L230.12,337.07 L230.92,337.37 L231.73,337.67 L232.54,337.97 L233.34,338.27 L234.15,338.58 L234.95,338.89 L235.76,339.20 L236.57,339.51 L237.37,339.83 L238.18,340.14 L238.98,340.46 L239.79,340.78 L240.60,341.11 L241.40,341.43 L242.21,341.76 L243.01,342.09 L243.82,342.42 L244.62,342.75 L245.43,343.09 L246.24,343.42 L247.04,343.76 L247.85,344.10 L248.65,344.44 L249.46,344.78 L250.27,345.12 L251.07,345.47 L251.88,345.81 L252.68,346.16 L253.49,346.51 L254.29,346.86 L255.10,347.21 L255.91,347.56 L256.71,347.91 L257.52,348.27 L258.32,348.62 L259.13,348.98 L259.94,349.34 L260.74,349.70 L261.55,350.05 L262.35,350.41 L263.16,350.78 L263.97,351.14 L264.77,351.50 L265.58,351.86 L266.38,352.23 L267.19,352.59 L267.99,352.96 L268.80,353.32 L269.61,353.69 L270.41,354.06 L271.22,354.42 L272.02,354.79 L272.83,355.16 L273.64,355.53 L274.44,355.90 L275.25,356.27 L276.05,356.64 L276.86,357.01 L277.66,357.38 L278.47,357.76 L279.28,358.13 L280.08,358.50 L280.89,358.87 L281.69,359.25 L282.50,359.62 L285.50,361.01 L288.50,362.41 L291.50,363.80 L294.50,365.20 L297.50,366.59 L300.50,367.99 L303.50,369.38 L306.50,370.77 L309.50,372.16 L312.50,373.54 L315.50,374.92 L318.49,376.29 L321.49,377.66 L324.49,379.03 L327.49,380.39 L330.49,381.74 L333.49,383.09 L336.49,384.42 L339.49,385.76 L342.49,387.08 L345.49,388.40 L348.49,389.71 L351.49,391.01 L354.49,392.30 L357.49,393.58 L360.49,394.86 L363.49,396.13 L366.49,397.39 L369.49,398.64 L372.49,399.88 L375.49,401.11 L378.49,402.33 L381.49,403.54 L384.48,404.74 L387.48,405.94 L390.48,407.12 L393.48,408.30 L396.48,409.46 L399.48,410.62 L402.48,411.77 L405.48,412.91 L408.48,414.03 L411.48,415.15 L414.48,416.26 L417.48,417.36 L420.48,418.45 L423.48,419.53 L426.48,420.60 L429.48,421.66 L432.48,422.72 L435.48,423.76 L438.48,424.80 L441.48,425.82 L444.48,426.84 L447.48,427.84 L450.47,428.84 L453.47,429.83 L456.47,430.81 L459.47,431.78 L462.47,432.75 L465.47,433.70 L468.47,434.65 L471.47,435.58 L474.47,436.51 L477.47,437.43 L480.47,438.34 L483.47,439.24 L486.47,440.14 L489.47,441.03 L492.47,441.90 L495.47,442.78 L498.47,443.64 L501.47,444.49 L504.47,445.34 L507.47,446.18 L510.47,447.01 L513.47,447.83 L516.46,448.65 L519.46,449.46 L522.46,450.26 L525.46,451.05 L528.46,451.84 L531.46,452.62 L534.46,453.39 L537.46,454.16 L540.46,454.91 L543.46,455.67 L546.46,456.41 L549.46,457.15 L552.46,457.88 L555.46,458.60 L558.46,459.32 L561.46,460.03 L564.46,460.74 L567.46,461.43 L570.46,462.13 L573.46,462.81 L576.46,463.49 L579.46,464.16 L582.45,464.83 L585.45,465.49 L588.45,466.15 L591.45,466.80 L594.45,467.44 L597.45,468.08 L600.45,468.71 L603.45,469.34 L606.45,469.96 L609.45,470.57 L612.45,471.18 L615.45,471.79 L618.45,472.38 L621.45,472.98 L624.45,473.57 L627.45,474.15 L630.45,474.73 L633.45,475.30 L636.45,475.87 L639.45,476.43 L642.45,476.99 L645.45,477.54 L648.44,478.09 L651.44,478.63 L654.44,479.17 L657.44,479.71 L660.44,480.24 L663.44,480.76 L666.44,481.28 L669.44,481.80 L672.44,482.31 L675.44,482.82 L678.44,483.32 L681.44,483.82 L684.44,484.31 L687.44,484.80 L690.44,485.29 L693.44,485.77 L696.44,486.25 L699.44,486.72 L702.44,487.19 L705.44,487.65 L708.44,488.12 L711.44,488.57 L714.43,489.03 L717.43,489.48 L720.43,489.92 L723.43,490.37 L726.43,490.81 L729.43,491.24 L732.43,491.67 L735.43,492.10 L738.43,492.53 L741.43,492.95 L744.43,493.37 L747.43,493.78 L750.43,494.19 L753.43,494.60 L756.43,495.00 L759.43,495.40 L762.43,495.80 L765.43,496.20 L768.43,496.59 L771.43,496.98 L774.43,497.36 L777.43,497.74 L780.42,498.12 L783.42,498.50 L786.42,498.87 L789.42,499.24 L792.42,499.61 L795.42,499.97 L798.42,500.33 L801.42,500.69 L804.42,501.05 L807.42,501.40 L810.42,501.75 L813.42,502.10 L816.42,502.44 L819.42,502.79 L822.42,503.12 L825.42,503.46 L828.42,503.80 L831.42,504.13 L834.42,504.46 L837.42,504.78 L840.42,505.11 L843.42,505.43 L846.41,505.75 L849.41,506.06 L852.41,506.38 L855.41,506.69 L858.41,507.00 L861.41,507.31 L864.41,507.61 L867.41,507.91 L870.41,508.21 L873.41,508.51 L876.41,508.81 L879.41,509.10"/>
<path stroke="#ff0000" d="M94.11,566.45 L94.84,561.05 L95.57,555.77 L96.29,550.58 L97.02,545.50 L97.75,540.51 L98.48,535.63 L99.20,530.84 L99.93,526.14 L100.66,521.54 L101.39,517.03 L102.11,512.61 L102.84,508.27 L103.57,504.03 L104.30,499.86 L105.02,495.78 L105.75,491.78 L106.48,487.85 L107.20,484.01 L107.93,480.24 L108.66,476.55 L109.39,472.93 L110.11,469.38 L110.84,465.91 L111.57,462.50 L112.30,459.16 L113.02,455.89 L113.75,452.69 L114.48,449.54 L115.21,446.47 L115.93,443.45 L116.66,440.50 L117.39,437.60 L118.12,434.77 L118.84,431.99 L119.57,429.26 L120.30,426.60 L121.02,423.99 L121.75,421.43 L122.48,418.92 L123.21,416.47 L123.93,414.07 L124.66,411.71 L125.39,409.41 L126.12,407.15 L126.84,404.94 L127.57,402.78 L128.30,400.66 L129.03,398.59 L129.75,396.56 L130.48,394.57 L131.21,392.62 L131.94,390.72 L132.66,388.86 L133.39,387.04 L134.12,385.25 L134.84,383.51 L135.57,381.80 L136.30,380.13 L137.03,378.50 L137.75,376.90 L138.48,375.34 L139.21,373.81 L139.94,372.32 L140.66,370.86 L141.39,369.43 L142.12,368.04 L142.85,366.67 L143.57,365.34 L144.30,364.04 L145.03,362.77 L145.76,361.52 L146.48,360.31 L147.21,359.13 L147.94,357.97 L148.66,356.84 L149.39,355.74 L150.12,354.66 L150.85,353.61 L151.57,352.59 L152.30,351.59 L153.03,350.61 L153.76,349.66 L154.48,348.73 L155.21,347.83 L155.94,346.95 L156.67,346.09 L157.39,345.26 L158.12,344.44 L158.85,343.65 L159.58,342.88 L160.30,342.13 L161.03,341.40 L161.76,340.69 L162.48,340.00 L163.21,339.33 L163.94,338.67 L164.67,338.04 L165.39,337.43 L166.12,336.83 L166.85,336.25 L167.58,335.69 L168.30,335.14 L169.03,334.61 L169.76,334.10 L170.49,333.60 L171.21,333.12 L171.94,332.66 L172.67,332.21 L173.40,331.77 L174.12,331.36 L174.85,330.95 L175.58,330.56 L176.30,330.18 L177.03,329.82 L177.76,329.47 L178.49,329.14 L179.21,328.82 L179.94,328.51 L180.67,328.21 L181.40,327.92 L182.12,327.65 L182.85,327.39 L183.58,327.14 L184.31,326.91 L185.03,326.68 L185.76,326.47 L186.49,326.27 L187.22,326.07 L187.94,325.89 L188.67,325.72 L189.40,325.56 L190.12,325.41 L190.85,325.27 L191.58,325.14 L192.31,325.01 L193.03,324.90 L193.76,324.80 L194.49,324.71 L195.22,324.62 L195.94,324.54 L196.67,324.48 L197.40,324.42 L198.13,324.37 L198.85,324.32 L199.58,324.29 L200.31,324.26 L201.04,324.24 L201.76,324.23 L202.49,324.23 L203.22,324.23 L203.94,324.24 L204.67,324.26 L205.40,324.28 L206.13,324.32 L206.85,324.35 L207.58,324.40 L208.31,324.45 L209.04,324.51 L209.76,324.57 L210.49,324.64 L211.22,324.72 L211.95,324.80 L212.67,324.89 L213.40,324.98 L214.13,325.08 L214.85,325.18 L215.58,325.29 L216.31,325.41 L217.04,325.53 L217.76,325.65 L218.49,325.78 L219.22,325.92 L219.95,326.06 L220.67,326.20 L221.40,326.35 L222.13,326.51 L222.86,326.67 L223.58,326.83 L224.31,327.00 L225.04,327.17 L225.77,327.34 L226.49,327.52 L227.22,327.71 L227.95,327.90 L228.67,328.09 L229.40,328.28 L230.13,328.48 L230.86,328.68 L231.58,328.89 L232.31,329.10 L233.04,329.31 L233.77,329.53 L234.49,329.75 L235.22,329.97 L235.95,330.20 L236.68,330.43 L237.40,330.66 L238.13,330.90 L238.86,331.13 L239.59,331.38 L240.31,331.62 L241.04,331.87 L241.77,332.12 L242.49,332.37 L243.22,332.62 L243.95,332.88 L244.68,333.14 L245.40,333.40 L246.13,333.67 L246.86,333.93 L247.59,334.20 L248.31,334.47 L249.04,334.75 L249.77,335.02 L250.50,335.30 L251.22,335.58 L251.95,335.86 L252.68,336.15 L253.41,336.43 L254.13,336.72 L254.86,337.01 L255.59,337.30 L256.31,337.59 L257.04,337.89 L257.77,338.18 L258.50,338.48 L259.22,338.78 L259.95,339.08 L260.68,339.38 L261.41,339.69 L262.13,339.99 L262.86,340.30 L263.59,340.61 L264.32,340.92 L265.04,341.23 L265.77,341.54 L266.50,341.86 L267.23,342.17 L267.95,342.49 L268.68,342.80 L269.41,343.12 L270.13,343.44 L270.86,343.76 L271.59,344.08 L272.32,344.41 L273.04,344.73 L273.77,345.05 L274.50,345.38 L275.23,345.71 L275.95,346.03 L276.68,346.36 L277.41,346.69 L278.14,347.02 L278.86,347.35 L279.59,347.68 L280.32,348.01 L281.05,348.35 L281.77,348.68 L282.50,349.01 L285.50,350.40 L288.50,351.79 L291.50,353.19 L294.50,354.60 L297.50,356.01 L300.50,357.43 L303.50,358.85 L306.50,360.27 L309.50,361.69 L312.50,363.12 L315.50,364.54 L318.49,365.96 L321.49,367.38 L324.49,368.80 L327.49,370.21 L330.49,371.62 L333.49,373.03 L336.49,374.43 L339.49,375.83 L342.49,377.22 L345.49,378.60 L348.49,379.98 L351.49,381.35 L354.49,382.71 L357.49,384.07 L360.49,385.41 L363.49,386.75 L366.49,388.09 L369.49,389.41 L372.49,390.72 L375.49,392.03 L378.49,393.33 L381.49,394.62 L384.48,395.90 L387.48,397.17 L390.48,398.43 L393.48,399.68 L396.48,400.92 L399.48,402.15 L402.48,403.37 L405.48,404.59 L408.48,405.79 L411.48,406.98 L414.48,408.17 L417.48,409.34 L420.48,410.50 L423.48,411.66 L426.48,412.80 L429.48,413.94 L432.48,415.06 L435.48,416.18 L438.48,417.29 L441.48,418.38 L444.48,419.47 L447.48,420.55 L450.47,421.61 L453.47,422.67 L456.47,423.72 L459.47,424.76 L462.47,425.79 L465.47,426.81 L468.47,427.82 L471.47,428.82 L474.47,429.82 L477.47,430.80 L480.47,431.78 L483.47,432.74 L486.47,433.70 L489.47,434.65 L492.47,435.59 L495.47,436.52 L498.47,437.44 L501.47,438.36 L504.47,439.27 L507.47,440.16 L510.47,441.05 L513.47,441.93 L516.46,442.81 L519.46,443.67 L522.46,444.53 L525.46,445.38 L528.46,446.22 L531.46,447.05 L534.46,447.88 L537.46,448.69 L540.46,449.51 L543.46,450.31 L546.46,451.10 L549.46,451.89 L552.46,452.67 L555.46,453.45 L558.46,454.21 L561.46,454.97 L564.46,455.72 L567.46,456.47 L570.46,457.21 L573.46,457.94 L576.46,458.67 L579.46,459.39 L582.45,460.10 L585.45,460.80 L588.45,461.50 L591.45,462.19 L594.45,462.88 L597.45,463.56 L600.45,464.23 L603.45,464.90 L606.45,465.56 L609.45,466.22 L612.45,466.87 L615.45,467.51 L618.45,468.15 L621.45,468.78 L624.45,469.41 L627.45,470.03 L630.45,470.65 L633.45,471.26 L636.45,471.86 L639.45,472.46 L642.45,473.06 L645.45,473.64 L648.44,474.23 L651.44,474.81 L654.44,475.38 L657.44,475.95 L660.44,476.51 L663.44,477.07 L666.44,477.62 L669.44,478.17 L672.44,478.71 L675.44,479.25 L678.44,479.79 L681.44,480.32 L684.44,480.84 L687.44,481.36 L690.44,481.88 L693.44,482.39 L696.44,482.90 L699.44,483.40 L702.44,483.90 L705.44,484.39 L708.44,484.88 L711.44,485.37 L714.43,485.85 L717.43,486.33 L720.43,486.80 L723.43,487.27 L726.43,487.74 L729.43,488.20 L732.43,488.65 L735.43,489.11 L738.43,489.56 L741.43,490.00 L744.43,490.45 L747.43,490.89 L750.43,491.32 L753.43,491.75 L756.43,492.18 L759.43,492.61 L762.43,493.03 L765.43,493.44 L768.43,493.86 L771.43,494.27 L774.43,494.68 L777.43,495.08 L780.42,495.48 L783.42,495.88 L786.42,496.27 L789.42,496.67 L792.42,497.05 L795.42,497.44 L798.42,497.82 L801.42,498.20 L804.42,498.57 L807.42,498.95 L810.42,499.32 L813.42,499.68 L816.42,500.05 L819.42,500.41 L822.42,500.77 L825.42,501.12 L828.42,501.48 L831.42,501.83 L834.42,502.17 L837.42,502.52 L840.42,502.86 L843.42,503.20 L846.41,503.53 L849.41,503.87 L852.41,504.20 L855.41,504.53 L858.41,504.85 L861.41,505.18 L864.41,505.50 L867.41,505.82 L870.41,506.13 L873.41,506.45 L876.41,506.76 L879.41,507.07"/>
<path stroke="#000" d="M85.50,566.45 L86.26,555.96 L87.02,545.69 L87.78,535.64 L88.54,525.81 L89.30,516.20 L90.06,506.79 L90.82,497.58 L91.58,488.57 L92.35,479.76 L93.11,471.14 L93.87,462.70 L94.63,454.45 L95.39,446.38 L96.15,438.48 L96.91,430.75 L97.67,423.19 L98.43,415.80 L99.19,408.56 L99.95,401.49 L100.71,394.57 L101.47,387.80 L102.23,381.17 L102.99,374.70 L103.75,368.36 L104.52,362.16 L105.28,356.11 L106.04,350.18 L106.80,344.38 L107.56,338.72 L108.32,333.17 L109.08,327.76 L109.84,322.46 L110.60,317.28 L111.36,312.21 L112.12,307.26 L112.88,302.42 L113.64,297.69 L114.40,293.07 L115.16,288.55 L115.92,284.13 L116.69,279.82 L117.45,275.60 L118.21,271.48 L118.97,267.45 L119.73,263.52 L120.49,259.67 L121.25,255.92 L122.01,252.25 L122.77,248.67 L123.53,245.17 L124.29,241.76 L125.05,238.42 L125.81,235.17 L126.57,231.99 L127.33,228.89 L128.09,225.86 L128.86,222.91 L129.62,220.03 L130.38,217.21 L131.14,214.47 L131.90,211.80 L132.66,209.19 L133.42,206.64 L134.18,204.16 L134.94,201.74 L135.70,199.39 L136.46,197.09 L137.22,194.85 L137.98,192.67 L138.74,190.55 L139.50,188.48 L140.26,186.47 L141.03,184.51 L141.79,182.60 L142.55,180.74 L143.31,178.94 L144.07,177.18 L144.83,175.48 L145.59,173.82 L146.35,172.20 L147.11,170.64 L147.87,169.11 L148.63,167.64 L149.39,166.20 L150.15,164.81 L150.91,163.46 L151.67,162.15 L152.43,160.88 L153.19,159.65 L153.96,158.46 L154.72,157.31 L155.48,156.19 L156.24,155.11 L157.00,154.06 L157.76,153.05 L158.52,152.08 L159.28,151.14 L160.04,150.23 L160.80,149.35 L161.56,148.51 L162.32,147.70 L163.08,146.92 L163.84,146.16 L164.60,145.44 L165.36,144.75 L166.13,144.08 L166.89,143.45 L167.65,142.84 L168.41,142.25 L169.17,141.70 L169.93,141.17 L170.69,140.66 L171.45,140.18 L172.21,139.72 L172.97,139.29 L173.73,138.88 L174.49,138.50 L175.25,138.13 L176.01,137.79 L176.77,137.47 L177.53,137.18 L178.30,136.90 L179.06,136.64 L179.82,136.41 L180.58,136.19 L181.34,135.99 L182.10,135.81 L182.86,135.66 L183.62,135.51 L184.38,135.39 L185.14,135.28 L185.90,135.20 L186.66,135.12 L187.42,135.07 L188.18,135.03 L188.94,135.01 L189.70,135.00 L190.47,135.01 L191.23,135.03 L191.99,135.07 L192.75,135.12 L193.51,135.19 L194.27,135.27 L195.03,135.37 L195.79,135.48 L196.55,135.60 L197.31,135.73 L198.07,135.88 L198.83,136.04 L199.59,136.21 L200.35,136.39 L201.11,136.58 L201.87,136.79 L202.64,137.01 L203.40,137.24 L204.16,137.48 L204.92,137.73 L205.68,137.99 L206.44,138.26 L207.20,138.54 L207.96,138.83 L208.72,139.12 L209.48,139.43 L210.24,139.75 L211.00,140.08 L211.76,140.41 L212.52,140.76 L213.28,141.11 L214.04,141.47 L214.81,141.84 L215.57,142.22 L216.33,142.60 L217.09,142.99 L217.85,143.39 L218.61,143.80 L219.37,144.22 L220.13,144.64 L220.89,145.07 L221.65,145.50 L222.41,145.94 L223.17,146.39 L223.93,146.84 L224.69,147.30 L225.45,147.77 L226.21,148.24 L226.97,148.72 L227.74,149.20 L228.50,149.69 L229.26,150.18 L230.02,150.68 L230.78,151.19 L231.54,151.70 L232.30,152.21 L233.06,152.73 L233.82,153.26 L234.58,153.78 L235.34,154.32 L236.10,154.85 L236.86,155.40 L237.62,155.94 L238.38,156.49 L239.14,157.05 L239.91,157.60 L240.67,158.16 L241.43,158.73 L242.19,159.30 L242.95,159.87 L243.71,160.45 L244.47,161.03 L245.23,161.61 L245.99,162.19 L246.75,162.78 L247.51,163.37 L248.27,163.97 L249.03,164.56 L249.79,165.16 L250.55,165.77 L251.31,166.37 L252.08,166.98 L252.84,167.59 L253.60,168.20 L254.36,168.82 L255.12,169.44 L255.88,170.06 L256.64,170.68 L257.40,171.30 L258.16,171.93 L258.92,172.56 L259.68,173.18 L260.44,173.82 L261.20,174.45 L261.96,175.08 L262.72,175.72 L263.48,176.36 L264.25,177.00 L265.01,177.64 L265.77,178.28 L266.53,178.93 L267.29,179.57 L268.05,180.22 L268.81,180.87 L269.57,181.52 L270.33,182.17 L271.09,182.82 L271.85,183.47 L272.61,184.12 L273.37,184.78 L274.13,185.43 L274.89,186.09 L275.65,186.75 L276.42,187.41 L277.18,188.06 L277.94,188.72 L278.70,189.38 L279.46,190.04 L280.22,190.71 L280.98,191.37 L281.74,192.03 L282.50,192.69 L285.50,195.31 L288.50,197.93 L291.50,200.56 L294.50,203.19 L297.50,205.81 L300.50,208.44 L303.50,211.06 L306.50,213.68 L309.50,216.29 L312.50,218.89 L315.50,221.48 L318.49,224.07 L321.49,226.65 L324.49,229.21 L327.49,231.76 L330.49,234.31 L333.49,236.83 L336.49,239.35 L339.49,241.85 L342.49,244.33 L345.49,246.80 L348.49,249.25 L351.49,251.69 L354.49,254.11 L357.49,256.51 L360.49,258.90 L363.49,261.27 L366.49,263.62 L369.49,265.96 L372.49,268.27 L375.49,270.57 L378.49,272.85 L381.49,275.11 L384.48,277.36 L387.48,279.58 L390.48,281.79 L393.48,283.98 L396.48,286.14 L399.48,288.29 L402.48,290.43 L405.48,292.54 L408.48,294.63 L411.48,296.71 L414.48,298.77 L417.48,300.81 L420.48,302.83 L423.48,304.83 L426.48,306.81 L429.48,308.78 L432.48,310.73 L435.48,312.65 L438.48,314.57 L441.48,316.46 L444.48,318.34 L447.48,320.20 L450.47,322.04 L453.47,323.86 L456.47,325.67 L459.47,327.46 L462.47,329.23 L465.47,330.99 L468.47,332.72 L471.47,334.45 L474.47,336.15 L477.47,337.84 L480.47,339.52 L483.47,341.18 L486.47,342.82 L489.47,344.44 L492.47,346.05 L495.47,347.65 L498.47,349.23 L501.47,350.79 L504.47,352.34 L507.47,353.88 L510.47,355.40 L513.47,356.91 L516.46,358.40 L519.46,359.87 L522.46,361.34 L525.46,362.79 L528.46,364.22 L531.46,365.64 L534.46,367.05 L537.46,368.45 L540.46,369.83 L543.46,371.19 L546.46,372.55 L549.46,373.89 L552.46,375.22 L555.46,376.54 L558.46,377.84 L561.46,379.13 L564.46,380.41 L567.46,381.68 L570.46,382.94 L573.46,384.18 L576.46,385.41 L579.46,386.63 L582.45,387.84 L585.45,389.04 L588.45,390.23 L591.45,391.40 L594.45,392.57 L597.45,393.72 L600.45,394.87 L603.45,396.00 L606.45,397.12 L609.45,398.23 L612.45,399.33 L615.45,400.43 L618.45,401.51 L621.45,402.58 L624.45,403.64 L627.45,404.69 L630.45,405.74 L633.45,406.77 L636.45,407.79 L639.45,408.81 L642.45,409.81 L645.45,410.81 L648.44,411.79 L651.44,412.77 L654.44,413.74 L657.44,414.70 L660.44,415.65 L663.44,416.60 L666.44,417.53 L669.44,418.46 L672.44,419.38 L675.44,420.29 L678.44,421.19 L681.44,422.09 L684.44,422.97 L687.44,423.85 L690.44,424.72 L693.44,425.59 L696.44,426.44 L699.44,427.29 L702.44,428.13 L705.44,428.97 L708.44,429.79 L711.44,430.61 L714.43,431.42 L717.43,432.23 L720.43,433.03 L723.43,433.82 L726.43,434.61 L729.43,435.38 L732.43,436.15 L735.43,436.92 L738.43,437.68 L741.43,438.43 L744.43,439.18 L747.43,439.92 L750.43,440.65 L753.43,441.38 L756.43,442.10 L759.43,442.81 L762.43,443.52 L765.43,444.23 L768.43,444.92 L771.43,445.62 L774.43,446.30 L777.43,446.98 L780.42,447.66 L783.42,448.33 L786.42,448.99 L789.42,449.65 L792.42,450.30 L795.42,450.95 L798.42,451.59 L801.42,452.23 L804.42,452.86 L807.42,453.49 L810.42,454.11 L813.42,454.73 L816.42,455.34 L819.42,455.95 L822.42,456.55 L825.42,457.15 L828.42,457.74 L831.42,458.33 L834.42,458.91 L837.42,459.49 L840.42,460.07 L843.42,460.64 L846.41,461.20 L849.41,461.76 L852.41,462.32 L855.41,462.87 L858.41,463.42 L861.41,463.96 L864.41,464.50 L867.41,465.04 L870.41,465.57 L873.41,466.10 L876.41,466.62 L879.41,467.14"/>
<path stroke="#0000ff" d="M73.78,566.45 L74.59,555.48 L75.39,544.76 L76.20,534.28 L77.00,524.03 L77.81,514.01 L78.62,504.22 L79.42,494.65 L80.23,485.29 L81.03,476.14 L81.84,467.20 L82.65,458.46 L83.45,449.92 L84.26,441.57 L85.06,433.42 L85.87,425.44 L86.67,417.65 L87.48,410.03 L88.29,402.59 L89.09,395.31 L89.90,388.20 L90.70,381.25 L91.51,374.47 L92.32,367.83 L93.12,361.35 L93.93,355.02 L94.73,348.84 L95.54,342.79 L96.35,336.89 L97.15,331.12 L97.96,325.49 L98.76,319.99 L99.57,314.62 L100.37,309.37 L101.18,304.25 L101.99,299.24 L102.79,294.35 L103.60,289.58 L104.40,284.93 L105.21,280.38 L106.02,275.94 L106.82,271.61 L107.63,267.38 L108.43,263.26 L109.24,259.23 L110.04,255.30 L110.85,251.47 L111.66,247.73 L112.46,244.08 L113.27,240.53 L114.07,237.06 L114.88,233.67 L115.69,230.38 L116.49,227.16 L117.30,224.03 L118.10,220.97 L118.91,218.00 L119.72,215.10 L120.52,212.27 L121.33,209.52 L122.13,206.84 L122.94,204.23 L123.74,201.69 L124.55,199.22 L125.36,196.81 L126.16,194.47 L126.97,192.19 L127.77,189.97 L128.58,187.82 L129.39,185.72 L130.19,183.68 L131.00,181.71 L131.80,179.78 L132.61,177.91 L133.41,176.10 L134.22,174.34 L135.03,172.63 L135.83,170.97 L136.64,169.37 L137.44,167.81 L138.25,166.30 L139.06,164.83 L139.86,163.41 L140.67,162.04 L141.47,160.71 L142.28,159.43 L143.09,158.18 L143.89,156.98 L144.70,155.82 L145.50,154.70 L146.31,153.62 L147.11,152.58 L147.92,151.57 L148.73,150.60 L149.53,149.67 L150.34,148.78 L151.14,147.91 L151.95,147.09 L152.76,146.29 L153.56,145.53 L154.37,144.80 L155.17,144.10 L155.98,143.44 L156.79,142.80 L157.59,142.19 L158.40,141.62 L159.20,141.07 L160.01,140.54 L160.81,140.05 L161.62,139.58 L162.43,139.14 L163.23,138.73 L164.04,138.34 L164.84,137.97 L165.65,137.63 L166.46,137.31 L167.26,137.02 L168.07,136.75 L168.87,136.50 L169.68,136.27 L170.48,136.06 L171.29,135.88 L172.10,135.72 L172.90,135.57 L173.71,135.45 L174.51,135.35 L175.32,135.26 L176.13,135.19 L176.93,135.15 L177.74,135.11 L178.54,135.10 L179.35,135.11 L180.16,135.13 L180.96,135.17 L181.77,135.22 L182.57,135.29 L183.38,135.37 L184.18,135.47 L184.99,135.59 L185.80,135.72 L186.60,135.86 L187.41,136.02 L188.21,136.19 L189.02,136.38 L189.83,136.58 L190.63,136.79 L191.44,137.01 L192.24,137.25 L193.05,137.50 L193.85,137.76 L194.66,138.03 L195.47,138.31 L196.27,138.61 L197.08,138.91 L197.88,139.23 L198.69,139.55 L199.50,139.89 L200.30,140.24 L201.11,140.59 L201.91,140.96 L202.72,141.33 L203.53,141.72 L204.33,142.11 L205.14,142.51 L205.94,142.92 L206.75,143.34 L207.55,143.77 L208.36,144.20 L209.17,144.64 L209.97,145.10 L210.78,145.55 L211.58,146.02 L212.39,146.49 L213.20,146.97 L214.00,147.46 L214.81,147.95 L215.61,148.45 L216.42,148.95 L217.22,149.47 L218.03,149.98 L218.84,150.51 L219.64,151.04 L220.45,151.57 L221.25,152.12 L222.06,152.66 L222.87,153.21 L223.67,153.77 L224.48,154.33 L225.28,154.90 L226.09,155.47 L226.90,156.05 L227.70,156.63 L228.51,157.21 L229.31,157.80 L230.12,158.40 L230.92,158.99 L231.73,159.60 L232.54,160.20 L233.34,160.81 L234.15,161.42 L234.95,162.04 L235.76,162.66 L236.57,163.28 L237.37,163.91 L238.18,164.54 L238.98,165.17 L239.79,165.81 L240.60,166.45 L241.40,167.09 L242.21,167.74 L243.01,168.38 L243.82,169.03 L244.62,169.69 L245.43,170.34 L246.24,171.00 L247.04,171.66 L247.85,172.32 L248.65,172.98 L249.46,173.65 L250.27,174.32 L251.07,174.99 L251.88,175.66 L252.68,176.33 L253.49,177.01 L254.29,177.69 L255.10,178.37 L255.91,179.05 L256.71,179.73 L257.52,180.41 L258.32,181.10 L259.13,181.78 L259.94,182.47 L260.74,183.16 L261.55,183.85 L262.35,184.54 L263.16,185.23 L263.97,185.92 L264.77,186.62 L265.58,187.31 L266.38,188.01 L267.19,188.71 L267.99,189.40 L268.80,190.10 L269.61,190.80 L270.41,191.50 L271.22,192.20 L272.02,192.90 L272.83,193.60 L273.64,194.30 L274.44,195.00 L275.25,195.71 L276.05,196.41 L276.86,197.11 L277.66,197.81 L278.47,198.52 L279.28,199.22 L280.08,199.92 L280.89,200.63 L281.69,201.33 L282.50,202.04 L285.50,204.66 L288.50,207.28 L291.50,209.89 L294.50,212.51 L297.50,215.11 L300.50,217.71 L303.50,220.31 L306.50,222.89 L309.50,225.47 L312.50,228.03 L315.50,230.58 L318.49,233.13 L321.49,235.65 L324.49,238.17 L327.49,240.67 L330.49,243.16 L333.49,245.63 L336.49,248.09 L339.49,250.53 L342.49,252.95 L345.49,255.36 L348.49,257.75 L351.49,260.12 L354.49,262.48 L357.49,264.82 L360.49,267.14 L363.49,269.44 L366.49,271.73 L369.49,274.00 L372.49,276.25 L375.49,278.48 L378.49,280.69 L381.49,282.88 L384.48,285.06 L387.48,287.21 L390.48,289.35 L393.48,291.47 L396.48,293.57 L399.48,295.65 L402.48,297.72 L405.48,299.76 L408.48,301.79 L411.48,303.80 L414.48,305.79 L417.48,307.76 L420.48,309.72 L423.48,311.65 L426.48,313.57 L429.48,315.47 L432.48,317.36 L435.48,319.22 L438.48,321.07 L441.48,322.90 L444.48,324.72 L447.48,326.51 L450.47,328.29 L453.47,330.06 L456.47,331.80 L459.47,333.53 L462.47,335.24 L465.47,336.94 L468.47,338.62 L471.47,340.29 L474.47,341.94 L477.47,343.57 L480.47,345.19 L483.47,346.79 L486.47,348.37 L489.47,349.95 L492.47,351.50 L495.47,353.04 L498.47,354.57 L501.47,356.08 L504.47,357.58 L507.47,359.07 L510.47,360.54 L513.47,361.99 L516.46,363.43 L519.46,364.86 L522.46,366.27 L525.46,367.67 L528.46,369.06 L531.46,370.44 L534.46,371.80 L537.46,373.15 L540.46,374.48 L543.46,375.80 L546.46,377.11 L549.46,378.41 L552.46,379.70 L555.46,380.97 L558.46,382.23 L561.46,383.48 L564.46,384.72 L567.46,385.95 L570.46,387.16 L573.46,388.37 L576.46,389.56 L579.46,390.74 L582.45,391.91 L585.45,393.07 L588.45,394.22 L591.45,395.36 L594.45,396.48 L597.45,397.60 L600.45,398.71 L603.45,399.80 L606.45,400.89 L609.45,401.97 L612.45,403.03 L615.45,404.09 L618.45,405.14 L621.45,406.17 L624.45,407.20 L627.45,408.22 L630.45,409.23 L633.45,410.23 L636.45,411.22 L639.45,412.21 L642.45,413.18 L645.45,414.15 L648.44,415.10 L651.44,416.05 L654.44,416.99 L657.44,417.92 L660.44,418.84 L663.44,419.76 L666.44,420.66 L669.44,421.56 L672.44,422.45 L675.44,423.34 L678.44,424.21 L681.44,425.08 L684.44,425.94 L687.44,426.79 L690.44,427.64 L693.44,428.48 L696.44,429.31 L699.44,430.13 L702.44,430.95 L705.44,431.75 L708.44,432.56 L711.44,433.35 L714.43,434.14 L717.43,434.92 L720.43,435.70 L723.43,436.47 L726.43,437.23 L729.43,437.98 L732.43,438.73 L735.43,439.48 L738.43,440.21 L741.43,440.94 L744.43,441.67 L747.43,442.39 L750.43,443.10 L753.43,443.81 L756.43,444.51 L759.43,445.20 L762.43,445.89 L765.43,446.57 L768.43,447.25 L771.43,447.92 L774.43,448.59 L777.43,449.25 L780.42,449.91 L783.42,450.56 L786.42,451.20 L789.42,451.84 L792.42,452.48 L795.42,453.11 L798.42,453.73 L801.42,454.35 L804.42,454.97 L807.42,455.58 L810.42,456.18 L813.42,456.79 L816.42,457.38 L819.42,457.97 L822.42,458.56 L825.42,459.14 L828.42,459.72 L831.42,460.29 L834.42,460.86 L837.42,461.42 L840.42,461.98 L843.42,462.53 L846.41,463.09 L849.41,463.63 L852.41,464.17 L855.41,464.71 L858.41,465.25 L861.41,465.78 L864.41,466.30 L867.41,466.82 L870.41,467.34 L873.41,467.85 L876.41,468.36 L879.41,468.87"/>
<path stroke="#ff0000" d="M94.11,566.45 L94.84,556.33 L95.57,546.42 L96.29,536.71 L97.02,527.21 L97.75,517.90 L98.48,508.78 L99.20,499.86 L99.93,491.11 L100.66,482.55 L101.39,474.17 L102.11,465.96 L102.84,457.92 L103.57,450.05 L104.30,442.34 L105.02,434.79 L105.75,427.40 L106.48,420.16 L107.20,413.08 L107.93,406.14 L108.66,399.35 L109.39,392.69 L110.11,386.18 L110.84,379.81 L111.57,373.57 L112.30,367.46 L113.02,361.48 L113.75,355.62 L114.48,349.89 L115.21,344.28 L115.93,338.79 L116.66,333.41 L117.39,328.15 L118.12,323.00 L118.84,317.97 L119.57,313.04 L120.30,308.21 L121.02,303.49 L121.75,298.87 L122.48,294.35 L123.21,289.93 L123.93,285.60 L124.66,281.37 L125.39,277.23 L126.12,273.18 L126.84,269.22 L127.57,265.35 L128.30,261.56 L129.03,257.86 L129.75,254.24 L130.48,250.70 L131.21,247.24 L131.94,243.86 L132.66,240.55 L133.39,237.32 L134.12,234.16 L134.84,231.07 L135.57,228.06 L136.30,225.11 L137.03,222.23 L137.75,219.42 L138.48,216.67 L139.21,213.99 L139.94,211.37 L140.66,208.82 L141.39,206.32 L142.12,203.88 L142.85,201.51 L143.57,199.19 L144.30,196.92 L145.03,194.71 L145.76,192.56 L146.48,190.46 L147.21,188.41 L147.94,186.42 L148.66,184.47 L149.39,182.57 L150.12,180.72 L150.85,178.92 L151.57,177.17 L152.30,175.46 L153.03,173.80 L153.76,172.18 L154.48,170.61 L155.21,169.08 L155.94,167.59 L156.67,166.14 L157.39,164.73 L158.12,163.36 L158.85,162.03 L159.58,160.74 L160.30,159.49 L161.03,158.27 L161.76,157.09 L162.48,155.95 L163.21,154.84 L163.94,153.76 L164.67,152.72 L165.39,151.71 L166.12,150.73 L166.85,149.79 L167.58,148.87 L168.30,147.99 L169.03,147.14 L169.76,146.32 L170.49,145.52 L171.21,144.76 L171.94,144.02 L172.67,143.31 L173.40,142.63 L174.12,141.97 L174.85,141.34 L175.58,140.74 L176.30,140.16 L177.03,139.60 L177.76,139.07 L178.49,138.56 L179.21,138.08 L179.94,137.62 L180.67,137.18 L181.40,136.76 L182.12,136.37 L182.85,136.00 L183.58,135.64 L184.31,135.31 L185.03,135.00 L185.76,134.71 L186.49,134.44 L187.22,134.18 L187.94,133.95 L188.67,133.73 L189.40,133.54 L190.12,133.36 L190.85,133.19 L191.58,133.05 L192.31,132.92 L193.03,132.80 L193.76,132.71 L194.49,132.63 L195.22,132.56 L195.94,132.51 L196.67,132.48 L197.40,132.46 L198.13,132.45 L198.85,132.46 L199.58,132.48 L200.31,132.52 L201.04,132.57 L201.76,132.63 L202.49,132.71 L203.22,132.80 L203.94,132.90 L204.67,133.01 L205.40,133.13 L206.13,133.27 L206.85,133.42 L207.58,133.58 L208.31,133.75 L209.04,133.93 L209.76,134.12 L210.49,134.33 L211.22,134.54 L211.95,134.76 L212.67,135.00 L213.40,135.24 L214.13,135.49 L214.85,135.75 L215.58,136.02 L216.31,136.30 L217.04,136.59 L217.76,136.89 L218.49,137.19 L219.22,137.51 L219.95,137.83 L220.67,138.16 L221.40,138.50 L222.13,138.84 L222.86,139.20 L223.58,139.56 L224.31,139.93 L225.04,140.30 L225.77,140.68 L226.49,141.07 L227.22,141.47 L227.95,141.87 L228.67,142.28 L229.40,142.69 L230.13,143.11 L230.86,143.54 L231.58,143.97 L232.31,144.41 L233.04,144.85 L233.77,145.30 L234.49,145.76 L235.22,146.22 L235.95,146.69 L236.68,147.16 L237.40,147.63 L238.13,148.11 L238.86,148.60 L239.59,149.09 L240.31,149.58 L241.04,150.08 L241.77,150.58 L242.49,151.09 L243.22,151.60 L243.95,152.12 L244.68,152.64 L245.40,153.16 L246.13,153.69 L246.86,154.22 L247.59,154.76 L248.31,155.30 L249.04,155.84 L249.77,156.38 L250.50,156.93 L251.22,157.48 L251.95,158.04 L252.68,158.60 L253.41,159.16 L254.13,159.72 L254.86,160.29 L255.59,160.86 L256.31,161.43 L257.04,162.01 L257.77,162.59 L258.50,163.17 L259.22,163.75 L259.95,164.33 L260.68,164.92 L261.41,165.51 L262.13,166.10 L262.86,166.70 L263.59,167.29 L264.32,167.89 L265.04,168.49 L265.77,169.09 L266.50,169.70 L267.23,170.30 L267.95,170.91 L268.68,171.52 L269.41,172.13 L270.13,172.74 L270.86,173.36 L271.59,173.97 L272.32,174.59 L273.04,175.21 L273.77,175.83 L274.50,176.45 L275.23,177.07 L275.95,177.69 L276.68,178.32 L277.41,178.94 L278.14,179.57 L278.86,180.20 L279.59,180.82 L280.32,181.45 L281.05,182.08 L281.77,182.72 L282.50,183.35 L285.50,185.96 L288.50,188.59 L291.50,191.23 L294.50,193.87 L297.50,196.51 L300.50,199.16 L303.50,201.81 L306.50,204.46 L309.50,207.11 L312.50,209.75 L315.50,212.39 L318.49,215.02 L321.49,217.64 L324.49,220.25 L327.49,222.86 L330.49,225.45 L333.49,228.04 L336.49,230.61 L339.49,233.17 L342.49,235.71 L345.49,238.24 L348.49,240.76 L351.49,243.26 L354.49,245.74 L357.49,248.21 L360.49,250.66 L363.49,253.10 L366.49,255.52 L369.49,257.92 L372.49,260.30 L375.49,262.67 L378.49,265.02 L381.49,267.35 L384.48,269.66 L387.48,271.95 L390.48,274.22 L393.48,276.48 L396.48,278.72 L399.48,280.93 L402.48,283.13 L405.48,285.31 L408.48,287.48 L411.48,289.62 L414.48,291.74 L417.48,293.85 L420.48,295.93 L423.48,298.00 L426.48,300.05 L429.48,302.08 L432.48,304.09 L435.48,306.09 L438.48,308.06 L441.48,310.02 L444.48,311.96 L447.48,313.88 L450.47,315.78 L453.47,317.67 L456.47,319.53 L459.47,321.38 L462.47,323.22 L465.47,325.03 L468.47,326.83 L471.47,328.61 L474.47,330.37 L477.47,332.12 L480.47,333.85 L483.47,335.56 L486.47,337.26 L489.47,338.94 L492.47,340.61 L495.47,342.25 L498.47,343.89 L501.47,345.50 L504.47,347.11 L507.47,348.69 L510.47,350.26 L513.47,351.82 L516.46,353.36 L519.46,354.89 L522.46,356.40 L525.46,357.90 L528.46,359.38 L531.46,360.85 L534.46,362.30 L537.46,363.74 L540.46,365.17 L543.46,366.58 L546.46,367.98 L549.46,369.37 L552.46,370.74 L555.46,372.10 L558.46,373.45 L561.46,374.79 L564.46,376.11 L567.46,377.42 L570.46,378.71 L573.46,380.00 L576.46,381.27 L579.46,382.53 L582.45,383.78 L585.45,385.02 L588.45,386.24 L591.45,387.45 L594.45,388.66 L597.45,389.85 L600.45,391.03 L603.45,392.20 L606.45,393.35 L609.45,394.50 L612.45,395.64 L615.45,396.76 L618.45,397.88 L621.45,398.98 L624.45,400.08 L627.45,401.16 L630.45,402.24 L633.45,403.30 L636.45,404.36 L639.45,405.41 L642.45,406.44 L645.45,407.47 L648.44,408.49 L651.44,409.49 L654.44,410.49 L657.44,411.48 L660.44,412.47 L663.44,413.44 L666.44,414.40 L669.44,415.36 L672.44,416.30 L675.44,417.24 L678.44,418.17 L681.44,419.09 L684.44,420.01 L687.44,420.91 L690.44,421.81 L693.44,422.70 L696.44,423.58 L699.44,424.45 L702.44,425.32 L705.44,426.18 L708.44,427.03 L711.44,427.87 L714.43,428.71 L717.43,429.54 L720.43,430.36 L723.43,431.17 L726.43,431.98 L729.43,432.78 L732.43,433.58 L735.43,434.36 L738.43,435.14 L741.43,435.92 L744.43,436.69 L747.43,437.45 L750.43,438.20 L753.43,438.95 L756.43,439.69 L759.43,440.43 L762.43,441.15 L765.43,441.88 L768.43,442.60 L771.43,443.31 L774.43,444.01 L777.43,444.71 L780.42,445.40 L783.42,446.09 L786.42,446.78 L789.42,447.45 L792.42,448.12 L795.42,448.79 L798.42,449.45 L801.42,450.10 L804.42,450.75 L807.42,451.40 L810.42,452.04 L813.42,452.67 L816.42,453.30 L819.42,453.92 L822.42,454.54 L825.42,455.15 L828.42,455.76 L831.42,456.37 L834.42,456.97 L837.42,457.56 L840.42,458.15 L843.42,458.74 L846.41,459.32 L849.41,459.89 L852.41,460.46 L855.41,461.03 L858.41,461.59 L861.41,462.15 L864.41,462.71 L867.41,463.25 L870.41,463.80 L873.41,464.34 L876.41,464.88 L879.41,465.41"/>
</g>
<text class="t" x="0.3" y="577.05" textLength="29.6" lengthAdjust="spacingAndGlyphs">0.0</text>
<text class="t" x="0.3" y="447.75" textLength="29.6" lengthAdjust="spacingAndGlyphs">0.2</text>
<text class="t" x="0.3" y="318.45" textLength="29.6" lengthAdjust="spacingAndGlyphs">0.4</text>
<text class="t" x="0.3" y="189.15" textLength="29.6" lengthAdjust="spacingAndGlyphs">0.6</text>
<text class="t" x="0.3" y="59.85" textLength="29.6" lengthAdjust="spacingAndGlyphs">0.8</text>
<text class="t" text-anchor="middle" x="85.90" y="600.35">2</text>
<text class="t" text-anchor="middle" x="282.90" y="600.35">4</text>
<text class="t" text-anchor="middle" x="479.90" y="600.35">6</text>
<text class="t" text-anchor="middle" x="676.90" y="600.35">8</text>
<text class="t" text-anchor="middle" x="874.10" y="600.35">10</text>
<text class="i" font-size="31.5" transform="matrix(0.994,0,0,1.000,6.66,24.90)">V</text>
<text font-size="31.5" transform="matrix(0.865,0,0,1.040,31.40,25.20)">(</text>
<text class="i" font-size="31.5" transform="matrix(1.084,0,0,0.890,40.12,24.70)">r</text>
<text font-size="31.5" transform="matrix(0.865,0,0,1.040,55.32,25.20)">)</text>
<text class="i" font-size="31.5" transform="matrix(1.129,0,0,0.930,891.06,573.60)">r</text>
<text class="i" font-size="21.0" transform="matrix(0.937,0,0,1.000,180.60,105.70)">ℓ</text>
<text stroke="none" font-size="19.5" transform="matrix(1.444,0,0,0.900,194.70,106.95)">=</text>
<text font-size="19.5" transform="matrix(1.015,0,0,1.000,215.91,105.70)">4</text>
<text class="i" font-size="21.0" transform="matrix(0.937,0,0,1.000,180.60,299.80)">ℓ</text>
<text stroke="none" font-size="19.5" transform="matrix(1.444,0,0,0.900,194.70,301.05)">=</text>
<text font-size="19.5" transform="matrix(1.006,0,0,1.000,215.96,299.80)">3</text>
<text class="i" font-size="21.0" transform="matrix(0.937,0,0,1.000,180.60,442.00)">ℓ</text>
<text stroke="none" font-size="19.5" transform="matrix(1.444,0,0,0.900,194.70,443.25)">=</text>
<text font-size="19.5" transform="matrix(1.036,0,0,1.000,216.01,442.00)">2</text>
<rect x="640.5" y="58.5" width="223.5" height="125" rx="11" ry="11" fill="#fff" stroke="#000" stroke-width="3.2"/>
<path d="M653.4,82.1 H693.6" stroke="#000" stroke-width="2.3" fill="none"/>
<path d="M653.4,115.3 H693.6" stroke="#0000ff" stroke-width="2.3" fill="none"/>
<path d="M653.4,148.2 H693.6" stroke="#ff0000" stroke-width="2.3" fill="none"/>
<text class="i" font-size="19.2" transform="matrix(1.145,0,0,1.000,698.15,91.20)">V</text>
<text class="i" font-size="13.6" transform="matrix(1.239,0,0,1.000,711.29,94.10)">R</text>
<text class="i" font-size="13.6" transform="matrix(1.422,0,0,1.000,720.43,94.10)">W</text>
<text font-size="19.2" transform="matrix(0.973,0,0,1.050,740.88,91.00)">(</text>
<text class="i" font-size="19.2" transform="matrix(1.185,0,0,0.920,747.28,91.20)">r</text>
<text font-size="19.2" transform="matrix(0.994,0,0,1.050,757.69,91.00)">)</text>
<text class="i" font-size="19.2" transform="matrix(1.145,0,0,1.000,698.15,124.00)">V</text>
<text font-size="19.2" transform="matrix(1.014,0,0,1.050,715.34,123.80)">(</text>
<text class="i" font-size="19.2" transform="matrix(1.185,0,0,0.920,722.08,124.00)">r</text>
<text font-size="19.2" transform="matrix(0.994,0,0,1.050,732.59,123.80)">)</text>
<text font-size="19.2" transform="matrix(0.944,0,0,1.000,740.01,124.00)">,</text>
<text class="i" font-size="19.2" transform="matrix(1.216,0,0,0.920,748.40,124.00)">a</text>
<text class="i" font-size="19.2" transform="matrix(1.213,0,0,0.920,759.66,124.00)">m</text>
<text stroke="none" font-size="19.2" transform="matrix(1.450,0,0,0.900,781.64,124.95)">=</text>
<text class="i" font-size="19.2" transform="matrix(1.145,0,0,1.000,698.15,157.20)">V</text>
<text font-size="19.2" transform="matrix(1.014,0,0,1.050,715.34,157.00)">(</text>
<text class="i" font-size="19.2" transform="matrix(1.185,0,0,0.920,722.08,157.20)">r</text>
<text font-size="19.2" transform="matrix(0.994,0,0,1.050,732.59,157.00)">)</text>
<text font-size="19.2" transform="matrix(0.944,0,0,1.000,740.01,157.20)">,</text>
<text class="i" font-size="19.2" transform="matrix(1.216,0,0,0.920,748.40,157.20)">a</text>
<text class="i" font-size="19.2" transform="matrix(1.213,0,0,0.920,759.66,157.20)">m</text>
<text stroke="none" font-size="19.2" transform="matrix(1.450,0,0,0.900,781.64,158.15)">=</text>
<text font-size="19.2" transform="matrix(1.094,0,0,1.000,802.50,124.00)">0</text>
<text font-size="19.2" transform="matrix(0.882,0,0,1.000,813.58,124.00)">.</text>
<text font-size="19.2" transform="matrix(1.039,0,0,1.000,818.32,124.00)">2</text>
<text stroke="none" font-size="19.2" transform="matrix(1.343,0,0,1.000,803.02,158.55)">−</text>
<text font-size="19.2" transform="matrix(1.094,0,0,1.000,818.10,157.20)">0</text>
<text font-size="19.2" transform="matrix(0.926,0,0,1.000,828.83,157.20)">.</text>
<text font-size="19.2" transform="matrix(1.039,0,0,1.000,833.92,157.20)">2</text>
</svg></body></html>
